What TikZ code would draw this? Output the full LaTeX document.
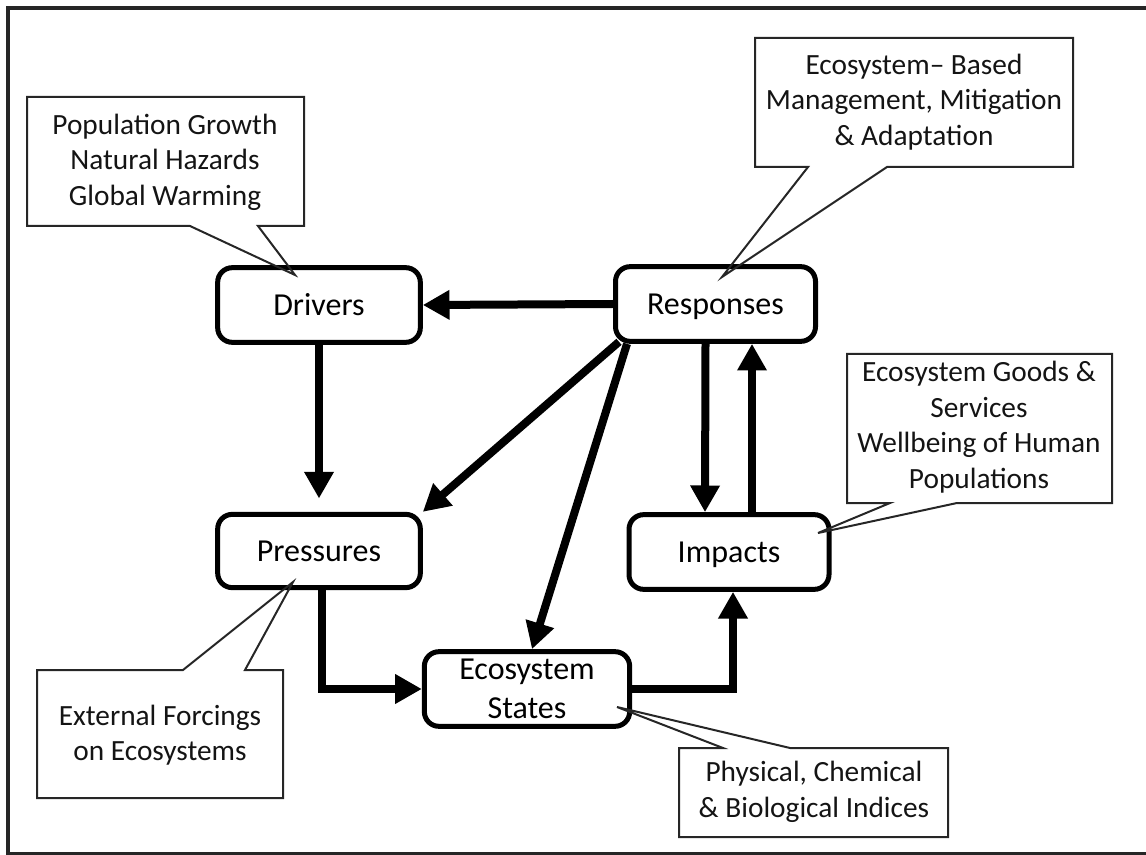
\documentclass[tikz,border=0pt]{standalone}
\usepackage{fontspec}
\setmainfont{Carlito}
\usetikzlibrary{arrows.meta,calc}
\begin{document}
\begin{tikzpicture}[x=0.75pt,y=-0.75pt,
  boxbase/.style={draw, line width=3.75pt, rounded corners=11pt, minimum width=152pt, minimum height=56pt, font=\fontsize{24}{29.5}\selectfont, inner sep=0pt},
  box/.style={boxbase, align=center},
  onebox/.style={boxbase, text height=15.5pt, text depth=0pt},
  arr/.style={line width=6pt, -{Triangle[length=20pt,width=21pt]}},
  call/.style={draw=black!85, line width=1.5pt, line join=miter},
  ctext/.style={align=center, font=\fontsize{22}{26.6}\selectfont, text=black!92, inner sep=0pt}]
\useasboundingbox (0,0) rectangle (1146,855);
% outer frame (right side lies beyond the picture)
\draw[line width=2.5pt, black!85] (1160,8) -- (8,8) -- (8,854) -- (1160,854);

% main boxes
\node[onebox] (drv) at (319,305) {Drivers};
\node[onebox, minimum width=150pt] (resp) at (715.5,304) {Responses};
\node[onebox, minimum height=55pt] (pres) at (319,551) {Pressures};
\node[onebox, minimum width=150pt] (imp) at (729,552) {Impacts};
\node[box, minimum width=154pt] (st) at (527,689) {Ecosystem\\States};

% connectors
\draw[arr] (resp.west) -- (drv.east);
\draw[arr, shorten >=10pt] (drv.south) -- (pres.north);
\coordinate (r1) at ($(resp.south west)+(6,-2)$);
\coordinate (r2) at ($(resp.south west)+(14,0)$);
\draw[arr] (r1) -- (pres.north east);
\draw[arr] (r2) -- ($(st.north)+(5,0)$);
\draw[arr] ($(resp.south)+(-10,0)$) -- ($(imp.north)+(-24,0)$);
\draw[arr] ($(imp.north)+(23,0)$) -- ($(resp.south)+(36.5,0)$);
\draw[arr] ($(pres.south)+(3,0)$) |- (st.west);
\draw[arr] (st.east) -| ($(imp.south)+(4,0)$);

% callouts
\coordinate (t1) at (295,275);
\draw[call] (27,97) -- (304,97) -- (304,226) -- (258,226) -- (t1) -- (190,226) -- (27,226) -- cycle;
\node[ctext] (c1) at (165,162) {Population Growth\\Natural Hazards\\Global Warming};

\coordinate (t2) at (722,277);
\draw[call] (755,38) -- (1073,38) -- (1073,167) -- (887,167) -- (t2) -- (808,167) -- (755,167) -- cycle;
\node[ctext] (c2) at (914,102) {Ecosystem– Based\\Management, Mitigation\\\& Adaptation};

\coordinate (t3) at (818,533);
\draw[call] (847,354) -- (1112,354) -- (1112,503) -- (957,503) -- (t3) -- (890,503) -- (847,503) -- cycle;
\node[ctext] (c3) at (979,427) {Ecosystem Goods \&\\Services\\Wellbeing of Human\\Populations};

\coordinate (t4) at (293,582);
\draw[call] (37,670) -- (183,670) -- (t4) -- (245,670) -- (283,670) -- (283,798) -- (37,798) -- cycle;
\node[ctext] (c4) at (160,735) {External Forcings\\on Ecosystems};

\coordinate (t5) at (617,707);
\draw[call] (679,748) -- (723,748) -- (t5) -- (790,748) -- (948,748) -- (948,837) -- (679,837) -- cycle;
\node[ctext] (c5) at (814,792) {Physical, Chemical\\\& Biological Indices};
\end{tikzpicture}
\end{document}
